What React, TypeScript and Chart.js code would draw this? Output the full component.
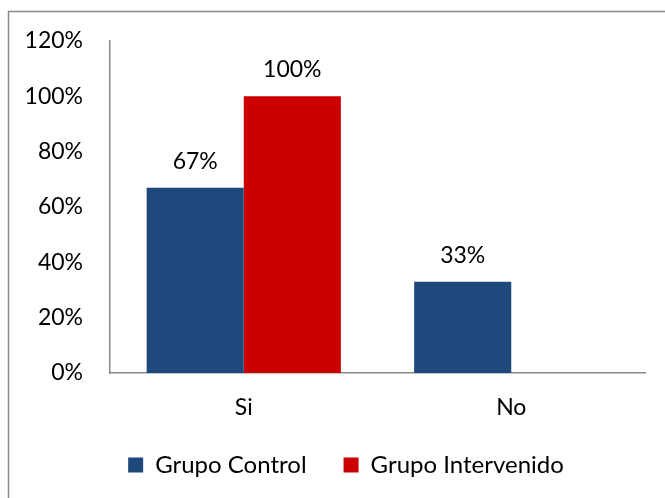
import React, { useEffect, useRef } from "react";
import { Chart, registerables } from "chart.js";

Chart.register(...registerables);

const categories = ["Si", "No"];
const seriesNames = ["Grupo Control", "Grupo Intervenido"];
const grupoControl = [0.67, 0.33];
const grupoIntervenido = [1.0, 0.0];
const valueLabelsControl = ["67%", "33%"];
const valueLabelsIntervenido = ["100%", ""];
const yTickLabels = ["0%", "20%", "40%", "60%", "80%", "100%", "120%"];

const FONT = "Lato";
const FS = 23;
const LEG_FS = 24;

const frame = {
  id: "frame",
  beforeDraw(chart: any) {
    const ctx = chart.ctx;
    ctx.save();
    ctx.strokeStyle = "#8a8a8a";
    ctx.lineWidth = 1.5;
    ctx.strokeRect(8.5, 11.5, 800, 700);
    ctx.restore();
  },
};

const legendShift = {
  id: "legendShift",
  afterLayout(chart: any) {
    if (chart.legend) chart.legend.left = 47;
  },
};

const valueLabels = {
  id: "valueLabels",
  afterDatasetsDraw(chart: any) {
    const ctx = chart.ctx;
    const lists = [valueLabelsControl, valueLabelsIntervenido];
    ctx.save();
    ctx.font = `${FS}px ${FONT}`;
    ctx.fillStyle = "#000";
    ctx.textAlign = "center";
    ctx.textBaseline = "alphabetic";
    chart.data.datasets.forEach((_: any, di: number) => {
      const meta = chart.getDatasetMeta(di);
      meta.data.forEach((bar: any, i: number) => {
        const t = lists[di][i];
        if (!t) return;
        ctx.fillText(t, bar.x, bar.y - 19);
      });
    });
    ctx.restore();
  },
};

export default function App() {
  const ref = useRef<HTMLCanvasElement>(null);
  useEffect(() => {
    const chart = new Chart(ref.current!, {
      type: "bar",
      data: {
        labels: categories,
        datasets: [
          { label: seriesNames[0], data: grupoControl, backgroundColor: "#1F497D" },
          { label: seriesNames[1], data: grupoIntervenido, backgroundColor: "#CC0000" },
        ],
      },
      options: {
        responsive: false,
        animation: false,
        devicePixelRatio: 1,
        layout: { padding: { left: 0, right: 20, top: 41, bottom: 11 } },
        datasets: { bar: { categoryPercentage: 0.726, barPercentage: 1 } },
        scales: {
          x: {
            grid: { display: false, drawTicks: false },
            border: { display: true, color: "#8a8a8a", width: 1.5 },
            ticks: { color: "#000", font: { family: FONT, size: FS }, padding: 21 },
            afterFit: (s: any) => { s.height = 43; },
          },
          y: {
            min: 0,
            max: 1.2,
            grid: { display: false, drawTicks: false },
            border: { display: true, color: "#8a8a8a", width: 1.5 },
            ticks: {
              stepSize: 0.2,
              color: "#000",
              padding: 27,
              font: { family: FONT, size: FS },
              callback: (_v: any, i: number) => yTickLabels[i],
            },
            afterFit: (s: any) => { s.width = 110; },
          },
        },
        plugins: {
          legend: {
            position: "bottom",
            labels: {
              boxWidth: 15,
              boxHeight: 15,
              padding: 37,
              color: "#000",
              font: { family: FONT, size: LEG_FS },
            },
          },
          tooltip: { enabled: false },
        },
      },
      plugins: [frame, legendShift, valueLabels],
    });
    return () => chart.destroy();
  }, []);
  return (
    <div style={{ position: "absolute", left: 0, top: 0, width: 665, height: 498 }}>
      <canvas ref={ref} width={665} height={498} />
    </div>
  );
}
